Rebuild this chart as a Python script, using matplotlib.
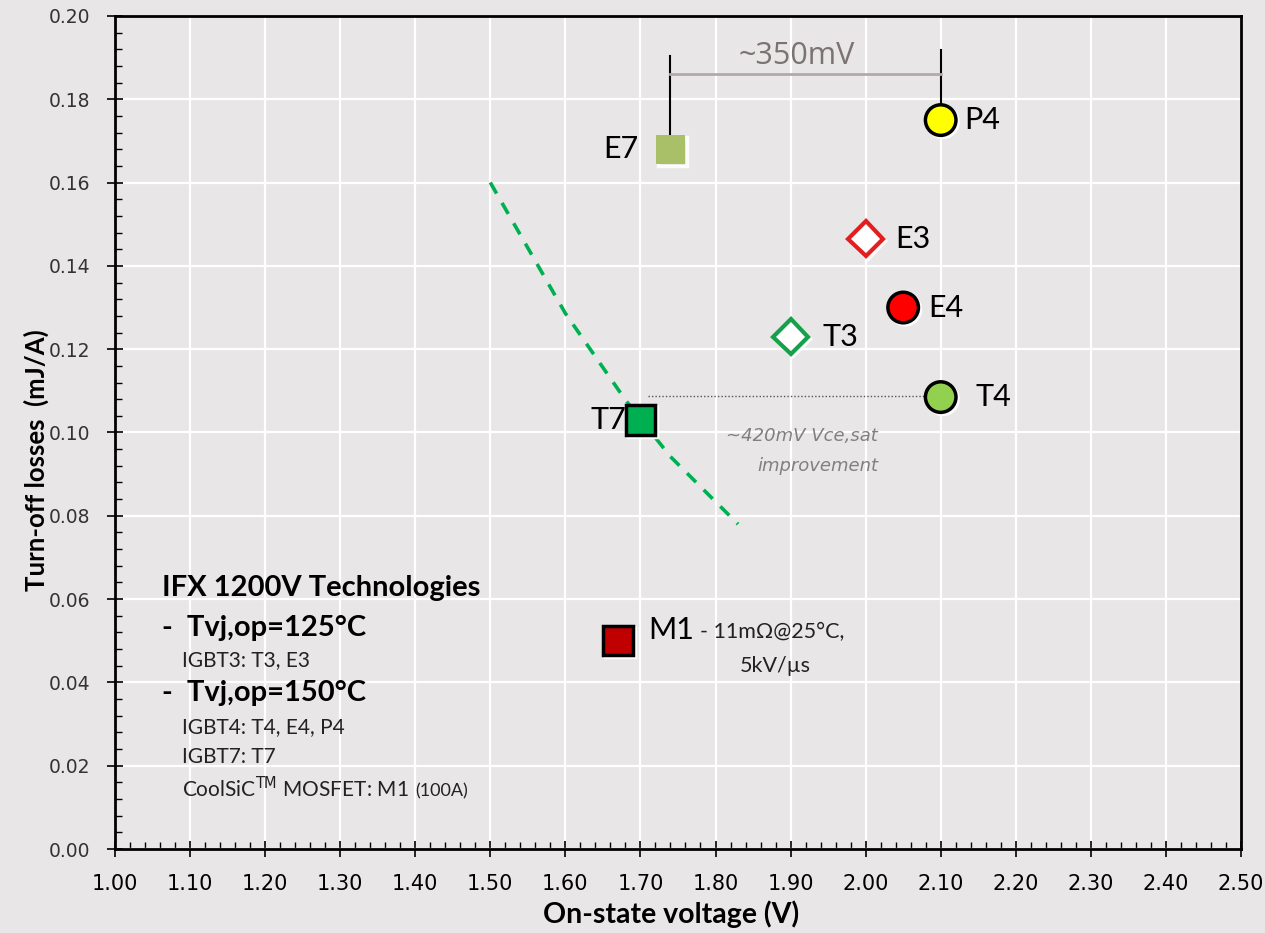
import matplotlib.pyplot as plt
from matplotlib.ticker import MultipleLocator, FormatStrFormatter
import matplotlib.patheffects as pe

# on-state voltage (V) and turn-off losses (mJ/A) per technology
names = ['E7', 'P4', 'E3', 'E4', 'T3', 'T4', 'T7', 'M1']
vce = [1.74, 2.10, 2.00, 2.05, 1.90, 2.10, 1.70, 1.67]
eoff = [0.168, 0.175, 0.1465, 0.130, 0.123, 0.1085, 0.103, 0.050]
markers = ['s', 'o', 'D', 'o', 'D', 'o', 's', 's']
faces = ['#a9c068', '#ffff00', 'white', '#ff0000', 'white', '#92d050', '#00b050', '#c00000']
edges = ['none', 'black', '#e31e1e', 'black', '#16a04a', 'black', 'black', 'black']
sizes = [21, 22, 18, 22, 18, 22, 21, 21]

# IGBT7 trade-off curve (dashed)
curve_x = [1.50, 1.60, 1.68, 1.74, 1.83]
curve_y = [0.160, 0.1286, 0.1078, 0.0942, 0.078]

bg = '#e8e6e7'
plt.rcParams['font.family'] = ['Lato', 'DejaVu Sans']

fig = plt.figure(figsize=(12.65, 9.33), dpi=100, facecolor=bg)
ax = fig.add_axes([0.0909, 0.09, 0.981 - 0.0909, 0.9829 - 0.09])
ax.set_facecolor(bg)

ax.set_xlim(1.0, 2.5)
ax.set_ylim(0.0, 0.2)
ax.xaxis.set_major_locator(MultipleLocator(0.1))
ax.xaxis.set_minor_locator(MultipleLocator(0.02))
ax.yaxis.set_major_locator(MultipleLocator(0.02))
ax.yaxis.set_minor_locator(MultipleLocator(0.004))
ax.xaxis.set_major_formatter(FormatStrFormatter('%.2f'))
ax.yaxis.set_major_formatter(FormatStrFormatter('%.2f'))
ax.grid(True, which='major', color='white', linewidth=1.6)
ax.set_axisbelow(True)
for s in ax.spines.values():
    s.set_linewidth(2)
    s.set_color('black')
ax.tick_params(which='major', direction='inout', length=12, width=1.2, colors='black')
ax.tick_params(which='minor', direction='in', length=5, width=1)
ax.tick_params(axis='x', pad=12, labelsize=15)
ax.tick_params(axis='y', pad=12, labelsize=13.5)
for lab in ax.get_xticklabels():
    lab.set_fontfamily('Liberation Sans Narrow')
for lab in ax.get_yticklabels():
    lab.set_fontfamily('DejaVu Sans')
    lab.set_color('#333333')

ax.set_xlabel('On-state voltage (V)', fontsize=20.5, fontweight='bold')
ax.set_ylabel('Turn-off losses  (mJ/A)', fontsize=18.5, fontweight='bold')
ax.xaxis.set_label_coords(0.494, -0.062)
ax.yaxis.set_label_coords(-0.0586, 0.467)

ax.plot(curve_x, curve_y, '--', color='#00b050', linewidth=2.6, dashes=(3.5, 3), zorder=2)

# annotation lines
ax.plot([1.74, 1.74], [0.171, 0.1905], color='black', linewidth=1.5, zorder=2)
ax.plot([2.10, 2.10], [0.178, 0.1918], color='black', linewidth=1.5, zorder=2)
ax.plot([1.74, 2.10], [0.186, 0.186], color='#b3a9a9', linewidth=2, zorder=2)
ax.text(1.9085, 0.1905, '~350mV', fontsize=22, color='#7d7272', ha='center', va='center',
        family=['Open Sans', 'DejaVu Sans'])
ax.plot([1.71, 2.10], [0.1088, 0.1088], color='#555555', linewidth=1, linestyle=(0, (1, 1.5)), zorder=2)
ax.text(2.0165, 0.0992, '~420mV Vce,sat', fontsize=13, color='#808080',
        style='italic', ha='right', va='center', family='DejaVu Sans')
ax.text(2.0165, 0.0920, 'improvement', fontsize=13, color='#808080',
        style='italic', ha='right', va='center', family='DejaVu Sans')

shadow = [pe.SimpleLineShadow(offset=(1.5, -1.5), shadow_color='white', alpha=0.9), pe.Normal()]
for n, x, y, m, fc, ec, sz in zip(names, vce, eoff, markers, faces, edges, sizes):
    ax.plot(x, y, marker=m, markersize=sz, markerfacecolor=fc, markeredgecolor=ec,
            markeredgewidth=2.5 if m != 'D' else 3, linestyle='none', zorder=3,
            path_effects=shadow)

# point labels
lab_fs = 22
ax.text(1.698, 0.168, 'E7', fontsize=lab_fs, ha='right', va='center')
ax.text(2.132, 0.175, 'P4', fontsize=lab_fs, ha='left', va='center')
ax.text(2.039, 0.1465, 'E3', fontsize=lab_fs, ha='left', va='center')
ax.text(2.083, 0.130, 'E4', fontsize=lab_fs, ha='left', va='center')
ax.text(1.942, 0.123, 'T3', fontsize=lab_fs, ha='left', va='center')
ax.text(2.146, 0.1085, 'T4', fontsize=lab_fs, ha='left', va='center')
ax.text(1.681, 0.103, 'T7', fontsize=lab_fs, ha='right', va='center')
ax.text(1.710, 0.0526, 'M1', fontsize=lab_fs, ha='left', va='center')
ax.text(1.779, 0.0522, '- 11m\u03a9@25\u00b0C,', fontsize=15.5, ha='left', va='center',
        color='#222222')
ax.text(1.8325, 0.0439, '5kV/\u00b5s', fontsize=15.5, ha='left', va='center',
        color='#222222')

# technology legend box
bx = 1.0626
ix = 1.0892
ax.text(bx, 0.0627, 'IFX 1200V Technologies', fontsize=21, fontweight='bold', va='center')
ax.text(bx, 0.0531, '-  Tvj,op=125\u00b0C', fontsize=21, fontweight='bold', va='center')
ax.text(ix, 0.0454, 'IGBT3: T3, E3', fontsize=15, va='center', color='#222222')
ax.text(bx, 0.0375, '-  Tvj,op=150\u00b0C', fontsize=21, fontweight='bold', va='center')
ax.text(ix, 0.0293, 'IGBT4: T4, E4, P4', fontsize=15, va='center', color='#222222')
ax.text(ix, 0.0221, 'IGBT7: T7', fontsize=15, va='center', color='#222222')
cool = ax.text(ix, 0.0146, r'CoolSiC$^{\mathrm{TM}}$ MOSFET: M1 ', fontsize=15, va='center',
               color='#222222')
ax.annotate('(100A)', xy=(1, 0), xycoords=cool, xytext=(4, 1.2), textcoords='offset points',
            fontsize=13, va='bottom', ha='left', color='#222222')

fig.savefig('out.png', dpi=100, facecolor=bg)
